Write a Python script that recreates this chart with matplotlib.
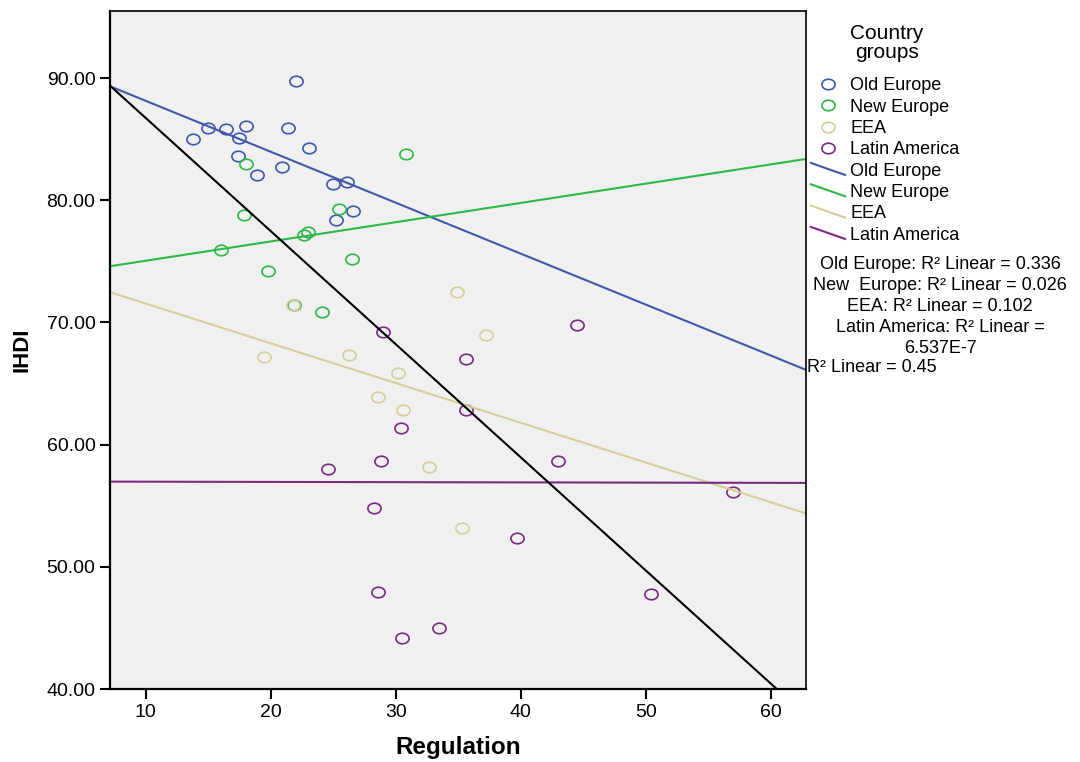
import numpy as np
import matplotlib.pyplot as plt
from matplotlib.path import Path
from matplotlib.transforms import Affine2D
from matplotlib.lines import Line2D
from matplotlib.legend_handler import HandlerBase

plt.rcParams['font.family'] = ['Liberation Sans', 'DejaVu Sans']

# data
groups = ['Old Europe', 'New Europe', 'EEA', 'Latin America']
colors = ['#3e58ac', '#2eb848', '#d4ce97', '#7b2a84']

old_x = [22.05, 15.0, 16.4, 18.0, 21.4, 13.8, 17.5, 23.1, 17.4, 18.9, 20.9, 25.0, 26.1, 26.6, 25.2]
old_y = [89.8, 85.9, 85.8, 86.1, 85.9, 85.0, 85.1, 84.3, 83.6, 82.1, 82.7, 81.3, 81.5, 79.1, 78.4]

new_x = [30.85, 18.0, 25.5, 17.9, 23.0, 22.7, 16.0, 19.8, 26.5, 21.9, 24.1]
new_y = [83.8, 83.0, 79.3, 78.8, 77.4, 77.2, 75.9, 74.2, 75.2, 71.4, 70.9]

eea_x = [21.8, 19.5, 26.3, 30.2, 28.6, 30.6, 34.9, 37.2, 32.7, 35.3]
eea_y = [71.4, 67.2, 67.35, 65.85, 63.9, 62.8, 72.5, 69.0, 58.2, 53.2]

lat_x = [29.0, 35.65, 35.65, 30.4, 28.8, 24.6, 44.5, 43.0, 57.0, 39.7, 28.3, 28.6, 33.5, 30.5, 50.4]
lat_y = [69.2, 67.0, 62.8, 61.4, 58.7, 58.0, 69.8, 58.7, 56.1, 52.4, 54.8, 47.9, 45.0, 44.2, 47.8]

xs = [old_x, new_x, eea_x, lat_x]
ys = [old_y, new_y, eea_y, lat_y]

r2_labels = ['Old Europe: R² Linear = 0.336',
             'New  Europe: R² Linear = 0.026',
             'EEA: R² Linear = 0.102',
             'Latin America: R² Linear =',
             '6.537E-7']
r2_total = 'R² Linear = 0.45'

x_ticks = [10, 20, 30, 40, 50, 60]
y_ticks = [40, 50, 60, 70, 80, 90]

# SPSS-like slightly wide open ellipse marker
ellipse = Path.unit_circle().transformed(Affine2D().scale(1.25, 1.0))


class DiagHandler(HandlerBase):
    def create_artists(self, legend, orig_handle, xdescent, ydescent,
                       width, height, fontsize, trans):
        ln = Line2D([-xdescent, -xdescent + width],
                    [-ydescent + height * 1.0, -ydescent + height * 0.05],
                    color=orig_handle.get_color(), lw=1.5, transform=trans)
        return [ln]


fig = plt.figure(figsize=(10.8, 7.62), dpi=100)
ax = fig.add_axes([0.1019, 0.0958, 0.746 - 0.1019, 0.9856 - 0.0958])
ax.set_facecolor('#f0f0f0')

xlim = (7.15, 62.8)
ylim = (40, 95.5)
xl = np.array(xlim)

pt_handles = []
line_handles = []
for name, c, gx, gy in zip(groups, colors, xs, ys):
    h, = ax.plot(gx, gy, linestyle='none', marker=ellipse, ms=9.5,
                 mfc='none', mec=c, mew=1.2, label=name)
    pt_handles.append(h)
for name, c, gx, gy in zip(groups, colors, xs, ys):
    k, b = np.polyfit(gx, gy, 1)
    h, = ax.plot(xl, k * xl + b, color=c, lw=1.5, label=name)
    line_handles.append(h)

all_x = np.concatenate(xs)
all_y = np.concatenate(ys)
k, b = np.polyfit(all_x, all_y, 1)
ax.plot(xl, k * xl + b, color='black', lw=1.5)

ax.set_xlim(*xlim)
ax.set_ylim(*ylim)
ax.set_xticks(x_ticks)
ax.set_yticks(y_ticks)
ax.set_yticklabels([f'{v:.2f}' for v in y_ticks])
ax.tick_params(direction='out', length=7, width=1.5, labelsize=14, colors='black')
for s in ax.spines.values():
    s.set_linewidth(1.2)
ax.spines['left'].set_linewidth(1.6)
ax.spines['bottom'].set_linewidth(1.6)

ax.set_xlabel('Regulation', fontsize=17.5, fontweight='bold')
ax.set_ylabel('IHDI', fontsize=16, fontweight='bold')
ax.xaxis.set_label_coords(0.5, -0.069)
ax.yaxis.set_label_coords(-0.112, 0.5)

# legend title drawn separately so the gap to the entries matches
fig.text(887 / 1080, 1 - 43 / 762, 'Country\ngroups', ha='center', va='center',
         fontsize=15, linespacing=1.05)

handler_map = {h: DiagHandler() for h in line_handles}
leg = fig.legend(pt_handles + line_handles, groups + groups,
                 loc='upper left', bbox_to_anchor=(0.744, 1 - 70 / 762),
                 frameon=False, fontsize=13, labelspacing=0.24,
                 handlelength=1.9, handletextpad=0.3, borderaxespad=0,
                 handler_map=handler_map)

y0 = 1 - 264 / 762
for i, t in enumerate(r2_labels):
    fig.text(940 / 1080, y0 - i * 21 / 762, t, ha='center', va='center', fontsize=13)
fig.text(807 / 1080, 1 - 368 / 762, r2_total, ha='left', va='center', fontsize=13)

fig.savefig('out.png', dpi=100)
